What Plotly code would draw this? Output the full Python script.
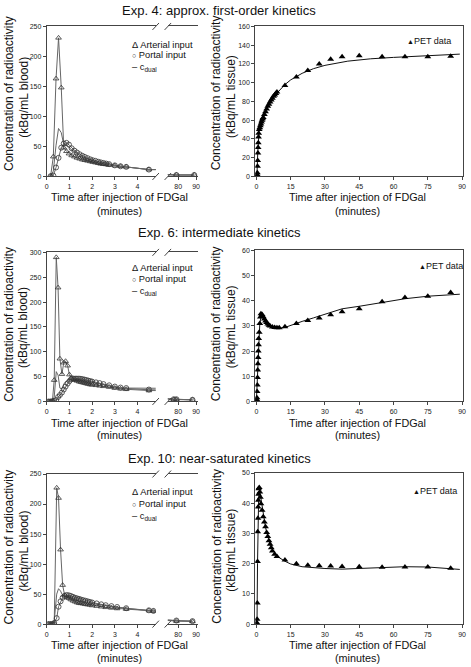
import plotly.graph_objects as go

W, H = 471, 667
def px(x): return x / W
def py(y): return 1 - y / H

FONT = "Arial, Liberation Sans, sans-serif"

# ---------------- Blood input data (left panels) ----------------
t4 = [0.17, 0.29, 0.41, 0.52, 0.64, 0.75, 0.87, 0.98, 1.1, 1.22, 1.33, 1.45, 1.57, 1.68, 1.8, 1.92,
      2.03, 2.15, 2.27, 2.38, 2.5, 2.62, 2.75, 3.0, 3.25, 3.5, 4.5, 79, 89]
art4 = [0.5, 33, 163, 231, 148, 48, 42, 38, 35, 33, 31, 29.5, 28, 27, 26, 25,
        24, 23, 22, 21, 20.5, 20, 19, 18, 17, 16, 11.5, 2.5, 2.5]
por4 = [0.5, 1.5, 15, 31, 48, 55, 56, 53, 47, 43, 40, 37, 34.5, 32.5, 30.5, 28.5,
        27, 26, 24.5, 23.5, 22.5, 21.5, 20.5, 18.5, 17, 16, 11.5, 2.5, 2.5]
cd4 = [0.5, 9, 52, 80, 73, 53, 52, 49, 44, 40.5, 38, 35, 33, 31, 29.5, 27.5,
       26.3, 25.3, 24, 23, 22, 21, 20, 18.5, 17, 16, 11.5, 2.5, 2.5]

t6 = [0.08, 0.17, 0.25, 0.33, 0.42, 0.5, 0.58, 0.67, 0.75, 0.83, 0.92, 1.0, 1.08, 1.17, 1.25, 1.33,
      1.42, 1.5, 1.58, 1.67, 1.75, 1.83, 1.92, 2.0, 2.17, 2.33, 2.5, 2.75, 3.0, 3.25, 3.5, 4.5,
      77.5, 79, 88]
art6 = [0, 0, 0.5, 43, 290, 229, 86, 55, 78, 81, 72, 54, 47, 45, 43, 41.5,
        40, 39, 38, 37, 36, 35, 34, 33.5, 32.5, 31.5, 30.5, 29, 27, 25.5, 24.5, 22,
        4, 4, 3]
por6 = [0, 0, 0.5, 1, 3, 9, 13, 18, 24, 30, 36, 41, 45, 46, 46, 46,
        46, 45.5, 45, 44, 43, 42, 41, 40, 38.5, 37, 35, 32.5, 30, 28, 27, 24,
        4.5, 4.5, 3.5]
cd6 = [0, 0, 0.5, 9, 60, 53, 27, 25, 35, 40, 43, 44, 45, 46, 45.5, 45,
       44.5, 44, 43.5, 42.5, 41.5, 40.5, 39.5, 38.5, 37.5, 36, 34, 31.5, 29, 27, 26, 23.5,
       4.5, 4.5, 3.5]

t10 = [0.08, 0.17, 0.25, 0.33, 0.44, 0.52, 0.61, 0.7, 0.79, 0.88, 0.97, 1.06, 1.15, 1.24, 1.33, 1.42,
       1.5, 1.6, 1.7, 1.8, 1.9, 2.0, 2.2, 2.4, 2.6, 2.85, 3.1, 3.5, 4.5, 4.7, 79, 88]
art10 = [0, 0, 0, 1, 227, 210, 124, 65, 48, 45, 43, 41, 39, 37.5, 36, 35,
         34.5, 34, 33, 32.5, 32, 31, 30, 29, 28, 27, 26, 25, 22.5, 21.5, 5, 4.5]
por10 = [0, 0, 0, 2, 10, 29, 38, 44, 47, 48.5, 48, 47, 45.5, 44, 43, 42,
         41, 40, 39, 38, 37, 36, 34.5, 33, 31.5, 30, 28.5, 26.5, 23, 22, 6, 5]
cd10 = [0, 0, 0, 5, 50, 59, 55, 48, 47, 47.5, 47, 46, 44, 42.5, 41.5, 40.5,
        39.5, 38.5, 37.5, 36.5, 36, 35, 33.5, 32, 30.5, 29, 28, 26, 23, 22, 5.5, 5]

# ---------------- PET data (right panels) ----------------
tp4 = [0.25, 0.33, 0.42, 0.5, 0.58, 0.67, 0.75, 0.83, 0.92, 1.0, 1.25, 1.5, 1.75, 2.0, 2.25, 2.5,
       2.75, 3.0, 3.5, 4.0, 4.5, 5.0, 5.5, 6.0, 6.5, 7.0, 7.5, 8.0, 8.5, 9.0,
       12.5, 17.5, 22.5, 27.5, 32.5, 37.5, 45, 55, 65, 75, 85]
pet4 = [0.5, 2, 4, 11, 17, 25, 31, 36, 42, 46, 50, 52, 54, 56, 58, 60,
        61.5, 63, 66, 69, 72, 75, 77, 79.5, 81.5, 83.5, 85.5, 87, 88.5, 90,
        97, 106, 113, 120, 125, 127.6, 128.7, 127.6, 127.6, 127.6, 128.3]
tf4 = [0, 0.3, 0.6, 0.9, 1.2, 2, 3, 5, 7.5, 10, 12.5, 15, 20, 25, 30, 40, 50, 60, 70, 85, 89]
fit4 = [0, 5, 25, 42, 49, 56, 63, 75, 85, 92, 98, 103, 110, 115, 118.5, 123, 125.5, 127, 128.5, 130, 130.5]

tp6 = [0.08, 0.17, 0.25, 0.33, 0.42, 0.5, 0.58, 0.67, 0.75, 0.83, 0.92, 1.0, 1.25, 1.5, 1.75, 2.0,
       2.5, 3.0, 3.5, 4.0, 4.5, 5.0, 5.5, 6.0, 7.0, 8.0, 9.0, 10.0,
       12.5, 17.5, 22.5, 27.5, 32.5, 37.5, 45, 55, 65, 75, 85]
pet6 = [0.3, 0.8, 1.5, 4, 6.5, 9.5, 12.5, 15, 17.5, 20, 22.5, 25, 27.5, 31, 33.5, 34.8,
        34.5, 33.6, 32.8, 32, 31.4, 30.8, 30.3, 30, 29.6, 29.4, 29.3, 29.3,
        29.7, 31, 32.2, 33.2, 34.4, 35.6, 36.8, 39.6, 41.3, 41.8, 43.3]
tf6 = [0, 0.5, 1, 1.5, 2, 2.5, 3, 4, 5, 6, 7.5, 10, 12.5, 15, 20, 25, 30, 37.5, 45, 55, 65, 75, 85, 89]
fit6 = [0, 10, 25, 31, 33.3, 33.8, 33.5, 32.3, 31.2, 30.3, 29.5, 29.1, 29.4, 30.3, 31.8, 33.2, 34.7,
        36.8, 37.8, 39.2, 40.8, 41.8, 42.4, 42.6]

tp10 = [0.17, 0.33, 0.42, 0.5, 0.58, 0.67, 0.75, 0.83, 0.92, 1.0, 1.25, 1.5, 1.75, 2.0, 2.5, 3.0,
        3.5, 4.0, 4.5, 5.0, 5.5, 6.0, 6.5, 7.0, 8.0, 9.0,
        12.5, 17.5, 22.5, 27.5, 32.5, 37.5, 45, 55, 65, 75, 85]
pet10 = [0.5, 1.6, 7, 20.7, 30.6, 35, 38.8, 41, 43, 44.8, 45.2, 43.7, 42, 39.8, 37.7, 35.5,
         33.8, 32.2, 30.3, 29, 27.6, 26.4, 25.3, 24.2, 23.1, 22.4,
         21.2, 20, 19.5, 19.3, 19.2, 19.1, 19, 18.8, 18.9, 18.9, 18.5]
tf10 = [0, 0.3, 0.5, 0.7, 1.0, 1.5, 2.0, 3.0, 4.0, 5.0, 6.0, 7.5, 10, 12.5, 15, 20, 25, 30, 37.5,
        45, 55, 65, 75, 85, 89]
fit10 = [0, 2, 20, 35, 42, 44, 41.5, 36, 32, 29, 26.5, 24, 22, 20.8, 19.9, 19, 18.6, 18.4, 18.2,
         18.4, 18.8, 19, 18.9, 18.4, 18.1]

titles = ["Exp. 4: approx. first-order kinetics",
          "Exp. 6: intermediate kinetics",
          "Exp. 10: near-saturated kinetics"]

rows = [
    dict(title=titles[0], ty=7, ltop=22.7, rtop=22.7, bot=174.3, lmax=250, ltick=[0, 50, 100, 150, 200, 250],
         rmax=160, rtick=list(range(0, 161, 20)), t=t4, art=art4, por=por4, cd=cd4,
         tp=tp4, pet=pet4, tf=tf4, fit=fit4,
         ycl=(90, 94), xtl=(195, 209), leg_y=(41.7, 51.7, 64.5), pet_leg=(408, 37.3)),
    dict(title=titles[1], ty=231, ltop=251, rtop=249, bot=401.7, lmax=300, ltick=[0, 50, 100, 150, 200, 250, 300],
         rmax=60, rtick=list(range(0, 61, 10)), t=t6, art=art6, por=por6, cd=cd6,
         tp=tp6, pet=pet6, tf=tf6, fit=fit6,
         ycl=(323.3, 326.7), xtl=(423.3, 435.5), leg_y=(266.7, 278.3, 290.5), pet_leg=(420, 265)),
    dict(title=titles[2], ty=459, ltop=475, rtop=474, bot=626.7, lmax=250, ltick=[0, 50, 100, 150, 200, 250],
         rmax=50, rtick=list(range(0, 51, 10)), t=t10, art=art10, por=por10, cd=cd10,
         tp=tp10, pet=pet10, tf=tf10, fit=fit10,
         ycl=(548.3, 552.5), xtl=(648.3, 660.5), leg_y=(493.3, 505.7, 517.5), pet_leg=(414, 491.7)),
]

fig = go.Figure()
layout = {}
annotations = []
shapes = []

LINE = "#444"
SERIES = "#666"
TICKF = dict(family=FONT, size=7, color="#222")

XL0, XL1 = 45.3, 155.7       # main segment of left panel
XL2, XL3 = 168.0, 198.7      # late segment of left panel
XR0, XR1 = 256.5, 466.5      # right panel

def axname(kind, i):
    return f"{kind}axis" if i == 1 else f"{kind}axis{i}"

def ref(kind, i):
    return kind if i == 1 else f"{kind}{i}"

for r, R in enumerate(rows):
    xm, xl, xr = 3 * r + 1, 3 * r + 2, 3 * r + 3
    ym, yb, yr, yrr = 4 * r + 1, 4 * r + 2, 4 * r + 3, 4 * r + 4
    ldom = [py(R["bot"]), py(R["ltop"])]
    rdom = [py(R["bot"]), py(R["rtop"])]

    common = dict(showgrid=False, zeroline=False, showline=True, linecolor=LINE, linewidth=1,
                  ticks="outside", ticklen=3, tickcolor=LINE, tickfont=TICKF)
    layout[axname("x", xm)] = dict(common, domain=[px(XL0), px(XL1)], range=[0, 4.8],
                                   anchor=ref("y", ym), tickvals=[0, 1, 2, 3, 4], mirror=True)
    layout[axname("x", xl)] = dict(common, domain=[px(XL2), px(XL3)], range=[74.2, 91.2],
                                   anchor=ref("y", ym), tickvals=[80, 90], mirror=True)
    layout[axname("x", xr)] = dict(common, domain=[px(XR0), px(XR1)], range=[-0.5, 90.2],
                                   anchor=ref("y", yr), tickvals=list(range(0, 91, 15)), mirror=True)
    layout[axname("y", ym)] = dict(common, domain=ldom, range=[0, R["lmax"]], anchor=ref("x", xm),
                                   side="left", tickvals=R["ltick"])
    layout[axname("y", yb)] = dict(common, range=[0, R["lmax"]], anchor=ref("x", xl),
                                   overlaying=ref("y", ym), side="right", tickvals=R["ltick"],
                                   ticks="inside", showticklabels=False)
    layout[axname("y", yr)] = dict(common, domain=rdom, range=[0, R["rmax"]], anchor=ref("x", xr),
                                   side="left", tickvals=R["rtick"], mirror=True)
    layout[axname("y", yrr)] = dict(common, range=[0, R["rmax"]], anchor=ref("x", xr),
                                    overlaying=ref("y", yr), side="right", tickvals=R["rtick"],
                                    ticks="inside", showticklabels=False, showline=False)

    # left panel traces on both segments
    for xa in (xm, xl):
        fig.add_trace(go.Scatter(x=R["t"], y=R["cd"], mode="lines", name="c_dual",
                                 line=dict(color=SERIES, width=1), showlegend=False,
                                 xaxis=ref("x", xa), yaxis=ref("y", ym)))
        fig.add_trace(go.Scatter(x=R["t"], y=R["art"], mode="lines+markers", name="Arterial input",
                                 line=dict(color=SERIES, width=1),
                                 marker=dict(symbol="triangle-up-open", size=5, color="#333",
                                             line=dict(width=0.8)),
                                 showlegend=False, xaxis=ref("x", xa), yaxis=ref("y", ym)))
        fig.add_trace(go.Scatter(x=R["t"], y=R["por"], mode="lines+markers", name="Portal input",
                                 line=dict(color=SERIES, width=1),
                                 marker=dict(symbol="circle-open", size=5, color="#333",
                                             line=dict(width=0.8)),
                                 showlegend=False, xaxis=ref("x", xa), yaxis=ref("y", ym)))
    # right panel
    fig.add_trace(go.Scatter(x=R["tf"], y=R["fit"], mode="lines", name="fit",
                             line=dict(color="#111", width=1), showlegend=False,
                             xaxis=ref("x", xr), yaxis=ref("y", yr)))
    fig.add_trace(go.Scatter(x=R["tp"], y=R["pet"], mode="markers", name="PET data",
                             marker=dict(symbol="triangle-up", size=6, color="#000"),
                             showlegend=False, xaxis=ref("x", xr), yaxis=ref("y", yr)))

    # titles
    annotations.append(dict(text=R["title"], x=px(220), y=py(R["ty"]), xref="paper", yref="paper",
                            showarrow=False, xanchor="center", yanchor="middle",
                            font=dict(family=FONT, size=13, color="#111")))
    # y titles
    for (xx, txt, yy) in [(7, "Concentration of radioactivity", R["ycl"][0]),
                          (22, "(kBq/mL blood)", R["ycl"][1]),
                          (217, "Concentration of radioactivity", R["ycl"][0]),
                          (232, "(kBq/mL tissue)", R["ycl"][1])]:
        annotations.append(dict(text=txt, x=px(xx), y=py(yy), xref="paper", yref="paper",
                                showarrow=False, textangle=-90, xanchor="center", yanchor="middle",
                                font=dict(family=FONT, size=12, color="#111")))
    # x titles
    for cx in (119, 360.5):
        annotations.append(dict(text="Time after injection of FDGal", x=px(cx), y=py(R["xtl"][0]),
                                xref="paper", yref="paper", showarrow=False,
                                xanchor="center", yanchor="middle",
                                font=dict(family=FONT, size=10.8, color="#111")))
        annotations.append(dict(text="(minutes)", x=px(cx), y=py(R["xtl"][1]),
                                xref="paper", yref="paper", showarrow=False,
                                xanchor="center", yanchor="middle",
                                font=dict(family=FONT, size=10.8, color="#111")))
    # left legend
    leg = ["Δ Arterial input",
           "<span style='font-size:7px'>○</span> Portal input",
           "– c<sub>dual</sub>"]
    for txt, yy in zip(leg, R["leg_y"]):
        annotations.append(dict(text=txt, x=px(130), y=py(yy), xref="paper", yref="paper",
                                showarrow=False, xanchor="left", yanchor="middle",
                                font=dict(family=FONT, size=9.3, color="#111")))
    # right legend
    annotations.append(dict(text="<span style='font-size:7px'>▲</span>PET data",
                            x=px(R["pet_leg"][0]), y=py(R["pet_leg"][1]),
                            xref="paper", yref="paper", showarrow=False,
                            xanchor="left", yanchor="middle",
                            font=dict(family=FONT, size=9, color="#111")))
    # axis break marks
    for bx in (XL1, XL2):
        for by in (R["ltop"], R["bot"]):
            shapes.append(dict(type="line", xref="paper", yref="paper",
                               x0=px(bx - 3.3), y0=py(by + 3.5), x1=px(bx + 3.3), y1=py(by - 3.5),
                               line=dict(color=LINE, width=1)))

fig.update_layout(**layout)
fig.update_layout(width=W, height=H, margin=dict(l=0, r=0, t=0, b=0),
                  paper_bgcolor="white", plot_bgcolor="white",
                  annotations=annotations, shapes=shapes,
                  font=dict(family=FONT, color="#111"))

fig.write_html("out.html", config={"displayModeBar": False},
               post_script="document.body.style.margin='0';document.body.style.overflow='hidden';")
